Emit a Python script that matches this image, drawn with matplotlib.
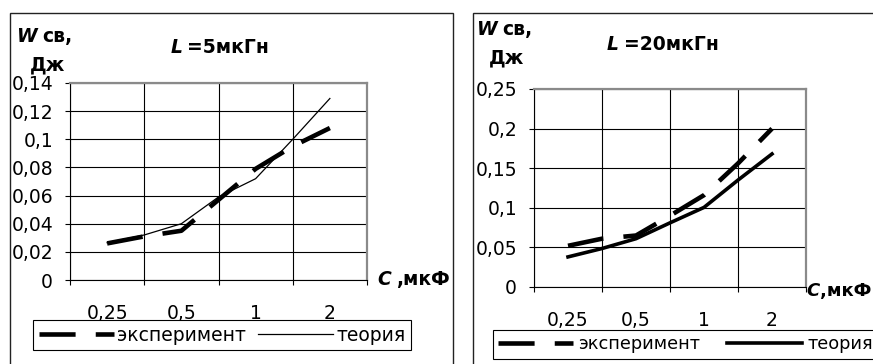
import matplotlib
matplotlib.use("Agg")
import matplotlib.pyplot as plt
from matplotlib.patches import Rectangle

plt.rcParams['font.family'] = ['DejaVu Sans']
plt.rcParams['lines.scale_dashes'] = False

W, H = 873, 364

# category axis: 0,25 / 0,5 / 1 / 2, data read at half steps between them
cat_labels = ['0,25', '0,5', '1', '2']
c_steps = [0, 0.5, 1, 1.5, 2, 2.5, 3]

# L = 5 мкГн
w_exp_5 = [0.026, 0.031, 0.035, 0.057, 0.079, 0.095, 0.108]
w_theory_5 = [0.0265, 0.032, 0.040, 0.059, 0.072, 0.100, 0.129]
yticks_5 = [0, 0.02, 0.04, 0.06, 0.08, 0.10, 0.12, 0.14]
ylabels_5 = ['0', '0,02', '0,04', '0,06', '0,08', '0,1', '0,12', '0,14']

# L = 20 мкГн
w_exp_20 = [0.052, 0.061, 0.065, 0.090, 0.116, 0.156, 0.200]
w_theory_20 = [0.038, 0.0486, 0.061, 0.081, 0.1005, 0.135, 0.168]
yticks_20 = [0, 0.05, 0.10, 0.15, 0.20, 0.25]
ylabels_20 = ['0', '0,05', '0,1', '0,15', '0,2', '0,25']

DASH = (0, (26, 14.5))


def fx(x):
    return x / W


def fy(y):
    return 1 - y / H


def panel(fig, box, exp, theory, yticks, ylabels, th_lw, leg_box, leg_fs, leg_hl, leg_tp, leg_cs):
    x0, x1, top, bot = box
    ax = fig.add_axes([fx(x0), fy(bot), fx(x1 - x0), fy(top) - fy(bot)])
    ax.plot(c_steps, exp, color='black', lw=3.3, linestyle=DASH, label='эксперимент',
            solid_capstyle='butt', dash_capstyle='butt')
    ax.plot(c_steps, theory, color='black', lw=th_lw, label='теория')
    ax.set_xlim(-0.5, 3.5)
    ax.set_ylim(yticks[0], yticks[-1])
    ax.set_yticks(yticks)
    ax.set_yticklabels(ylabels, fontsize=13.5)
    ax.set_xticks([-0.5, 0.5, 1.5, 2.5, 3.5])
    ax.set_xticklabels([])
    ax.set_xticks([0, 1, 2, 3], minor=True)
    ax.set_xticklabels(cat_labels, minor=True, fontsize=13.5)
    ax.tick_params(axis='y', direction='out', length=3.6, width=0.8, pad=8.6)
    ax.tick_params(axis='x', which='major', direction='out', length=3.6, width=0.8)
    ax.tick_params(axis='x', which='minor', length=0, pad=17)
    ax.grid(True, which='major', color='black', lw=0.8)
    ax.set_axisbelow(True)
    for s in ['left', 'bottom']:
        ax.spines[s].set_color('black')
        ax.spines[s].set_linewidth(0.8)
    for s in ['top', 'right']:
        ax.spines[s].set_color('#8a8a8a')
        ax.spines[s].set_linewidth(1.6)
    lx, ly = leg_box
    leg = ax.legend(loc='upper left', bbox_to_anchor=(fx(lx), fy(ly)), bbox_transform=fig.transFigure,
                    ncol=2, fontsize=leg_fs, handlelength=leg_hl, handletextpad=leg_tp,
                    columnspacing=leg_cs, borderpad=0.3, borderaxespad=0, fancybox=False,
                    edgecolor='black', framealpha=1)
    leg.get_frame().set_linewidth(0.8)
    return ax


fig = plt.figure(figsize=(W / 100, H / 100), dpi=100)

# outer chart frames
fig.add_artist(Rectangle((fx(9.5), fy(380)), fx(452.5 - 9.5), fy(12.5) - fy(380), fill=False,
                         edgecolor='#222222', lw=1.0, transform=fig.transFigure))
fig.add_artist(Rectangle((fx(473), fy(380)), fx(420), fy(13) - fy(380), fill=False,
                         edgecolor='#222222', lw=1.0, transform=fig.transFigure))

panel(fig, (70, 367, 83, 280), w_exp_5, w_theory_5, yticks_5, ylabels_5, 0.9,
      (33, 320), 13.5, 4.0, 0.2, 0.6)
panel(fig, (534, 806, 89, 287), w_exp_20, w_theory_20, yticks_20, ylabels_20, 2.6,
      (493, 330), 12.8, 4.2, 0.3, 1.5)

bold = dict(fontsize=13.5, fontweight='bold', va='baseline')
# left panel texts
fig.text(fx(17), fy(42), 'W', style='italic', **bold)
fig.text(fx(42), fy(42), 'св,', **bold)
fig.text(fx(30), fy(70), 'Дж', **bold)
fig.text(fx(171), fy(53), 'L', style='italic', **bold)
fig.text(fx(187), fy(53), '=5мкГн', **bold)
fig.text(fx(377), fy(285), 'C', style='italic', **bold)
fig.text(fx(396), fy(285), ',мкФ', **bold)

# right panel texts
fig.text(fx(477), fy(35), 'W', style='italic', **bold)
fig.text(fx(502), fy(35), 'св,', **bold)
fig.text(fx(489), fy(63), 'Дж', **bold)
fig.text(fx(607), fy(50), 'L', style='italic', **bold)
fig.text(fx(624), fy(50), '=20мкГн', **bold)
fig.text(fx(806), fy(296), 'C', style='italic', fontsize=13, fontweight='bold', va='baseline')
fig.text(fx(820), fy(296), ',мкФ', fontsize=13, fontweight='bold', va='baseline')

fig.savefig('out.png', dpi=100)
